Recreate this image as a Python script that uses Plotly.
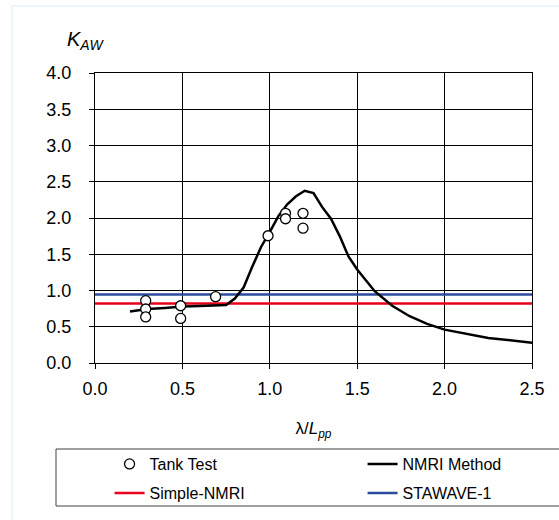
import plotly.graph_objects as go

# ---- data ----
tank_x = [0.29, 0.29, 0.29, 0.49, 0.49, 0.69, 0.99, 1.09, 1.09, 1.19, 1.19]
tank_y = [0.86, 0.745, 0.635, 0.79, 0.615, 0.915, 1.755, 2.065, 1.99, 2.065, 1.86]

nmri_x = [0.2, 0.3, 0.4, 0.5, 0.6, 0.7, 0.75, 0.8, 0.85, 0.9, 0.95, 1.0, 1.05, 1.1,
          1.15, 1.2, 1.25, 1.3, 1.35, 1.4, 1.45, 1.5, 1.6, 1.7, 1.8, 1.9, 2.0, 2.25, 2.5]
nmri_y = [0.71, 0.745, 0.76, 0.78, 0.785, 0.79, 0.80, 0.89, 1.04, 1.33, 1.60, 1.81, 2.03, 2.19,
          2.30, 2.375, 2.345, 2.15, 1.99, 1.75, 1.47, 1.29, 0.99, 0.79, 0.645, 0.54, 0.46, 0.345, 0.28]

simple_x = [0.0, 2.5]
simple_y = [0.82, 0.82]
stawave_x = [0.0, 2.5]
stawave_y = [0.945, 0.945]

x_ticks = [0.0, 0.5, 1.0, 1.5, 2.0, 2.5]
y_ticks = [0.0, 0.5, 1.0, 1.5, 2.0, 2.5, 3.0, 3.5, 4.0]

# ---- layout geometry (pixels) ----
W, H = 559, 520
PL, PT, PW, PH = 95, 73, 437, 290
FONT = "Liberation Sans, Arial, sans-serif"


def pxx(p):
    return (p - PL) / PW


def pxy(p):
    return (PT + PH - p) / PH


fig = go.Figure()

fig.add_trace(go.Scatter(x=simple_x, y=simple_y, mode="lines", name="Simple-NMRI",
                         line=dict(color="#E8001C", width=2.5), legend="legend2", legendrank=1))
fig.add_trace(go.Scatter(x=stawave_x, y=stawave_y, mode="lines", name="STAWAVE-1",
                         line=dict(color="#2B4C9E", width=2.5), legend="legend2", legendrank=2))
fig.add_trace(go.Scatter(x=nmri_x, y=nmri_y, mode="lines", name="NMRI Method",
                         line=dict(color="black", width=2.5), legend="legend", legendrank=2))
fig.add_trace(go.Scatter(x=tank_x, y=tank_y, mode="markers", name="Tank Test",
                         marker=dict(symbol="circle", size=10, color="white",
                                     line=dict(color="black", width=1.3)),
                         legend="legend", legendrank=1))

axis_common = dict(
    showline=True, linecolor="black", linewidth=1, mirror=True,
    showgrid=True, gridcolor="black", gridwidth=1,
    ticks="outside", ticklen=5, tickcolor="black", tickwidth=1,
    tickfont=dict(family=FONT, size=18, color="black"),
    zeroline=False, tickformat=".1f",
)

fig.update_xaxes(range=[0, 2.5], tickmode="array", tickvals=x_ticks,
                 ticklabelstandoff=4,
                 title=dict(text="λ/<i>L</i><sub><i>pp</i></sub>",
                            font=dict(family=FONT, size=17, color="black"), standoff=24),
                 **axis_common)
fig.update_yaxes(range=[0, 4.0], tickmode="array", tickvals=y_ticks,
                 ticklabelstandoff=14, **axis_common)

legend_common = dict(
    orientation="h", xref="paper", yref="paper", xanchor="left", yanchor="middle",
    x=-0.001, indentation=15, entrywidth=193, entrywidthmode="pixels",
    bgcolor="rgba(0,0,0,0)", borderwidth=0,
    font=dict(family=FONT, size=16, color="black"),
    traceorder="normal",
)

fig.update_layout(
    width=W, height=H,
    margin=dict(l=PL, r=W - PL - PW, t=PT, b=H - PT - PH, autoexpand=False),
    paper_bgcolor="white", plot_bgcolor="white",
    font=dict(family=FONT, size=16, color="black"),
    showlegend=True,
    legend=dict(y=pxy(464), **legend_common),
    legend2=dict(y=pxy(493), **legend_common),
    annotations=[
        dict(text="<i>K</i><sub><i>AW</i></sub>", xref="paper", yref="paper",
             x=pxx(65), y=pxy(40), xanchor="left", yanchor="middle", showarrow=False,
             font=dict(family=FONT, size=20, color="black")),
    ],
    shapes=[
        # outer chart-area border
        dict(type="rect", xref="paper", yref="paper", x0=pxx(12), y0=pxy(6), x1=pxx(620),
             y1=pxy(620), line=dict(color="#DCEEF5", width=1), fillcolor="rgba(0,0,0,0)",
             layer="below"),
        # legend box
        dict(type="rect", xref="paper", yref="paper", x0=pxx(56), y0=pxy(506), x1=pxx(620),
             y1=pxy(449), line=dict(color="#404040", width=1), fillcolor="rgba(0,0,0,0)"),
    ],
)

fig.write_html(
    "out.html",
    config={"displayModeBar": False},
    post_script="document.body.style.margin='0';document.body.style.overflow='hidden';",
)
